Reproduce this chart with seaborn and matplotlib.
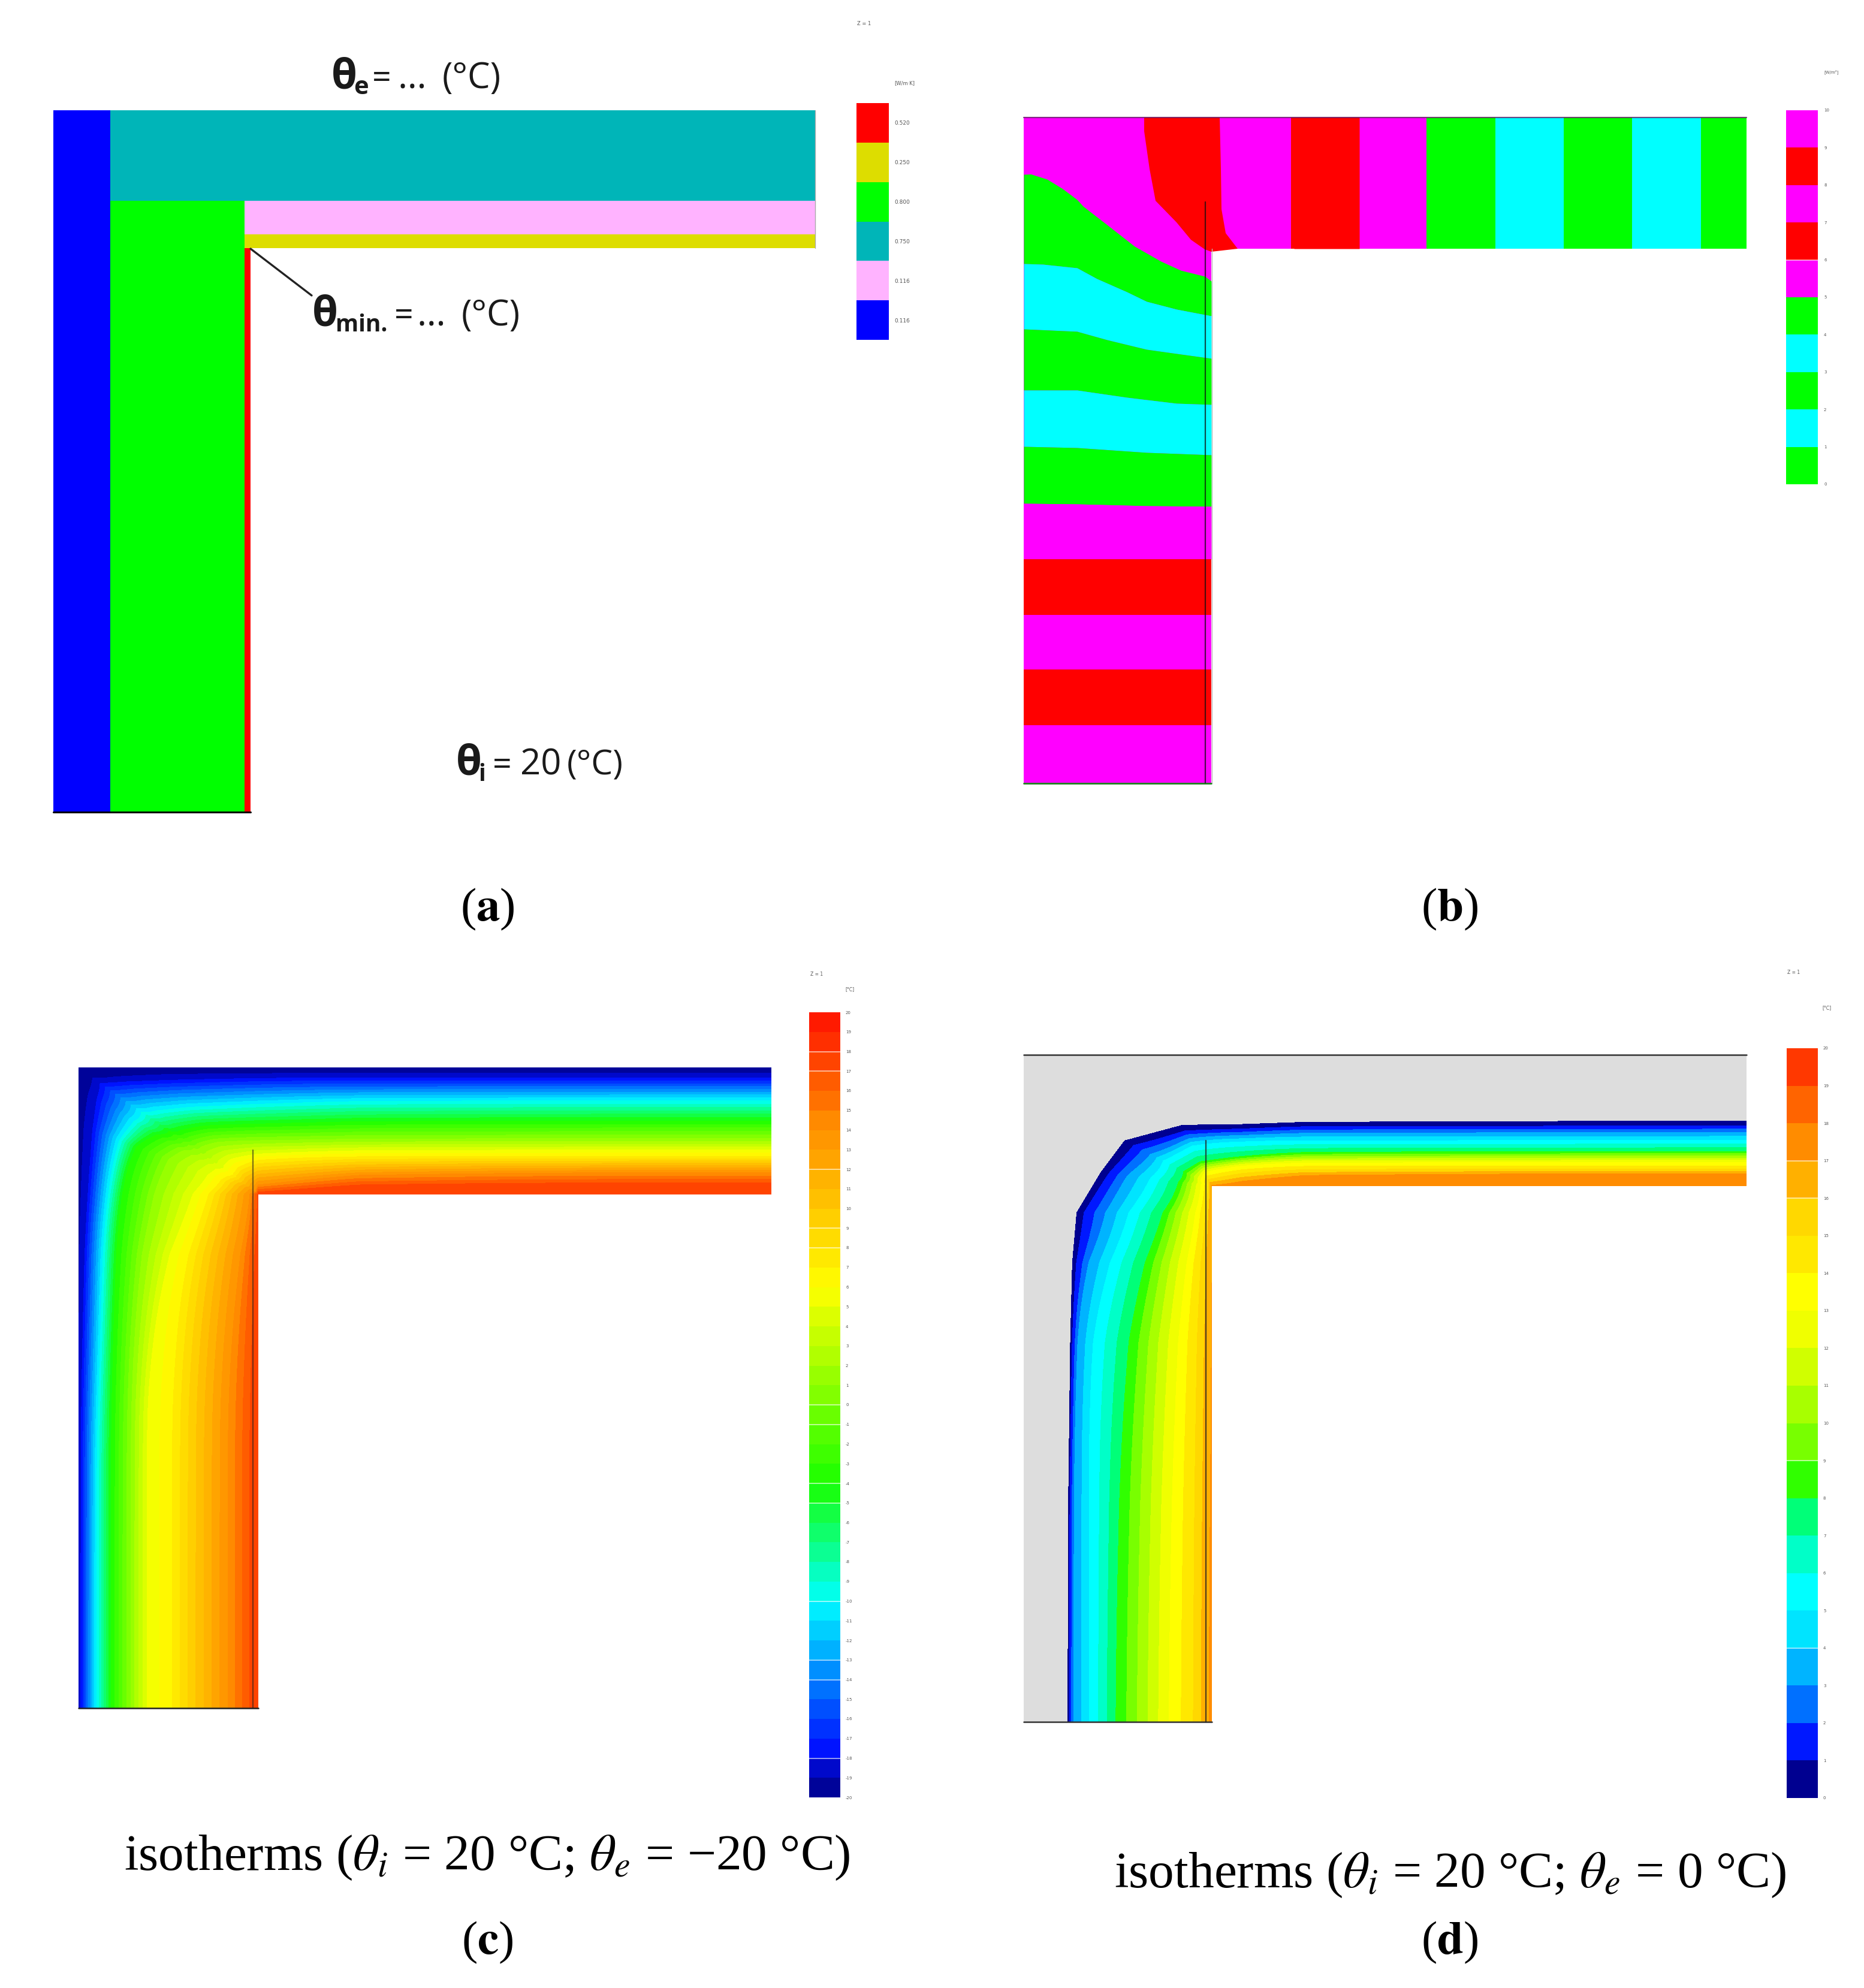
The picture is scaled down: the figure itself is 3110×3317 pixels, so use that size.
import numpy as np
import matplotlib
matplotlib.use("Agg")
import matplotlib.pyplot as plt
from matplotlib.colors import ListedColormap, LinearSegmentedColormap
import seaborn as sns

sns.set_theme(style="white")
plt.rcParams["font.family"] = ["Liberation Serif", "DejaVu Serif"]
plt.rcParams["mathtext.fontset"] = "stix"

W, H = 3110, 3317

# ---------- panel (a): material layers ----------
a_conductivity = ["0.520", "0.250", "0.800", "0.750", "0.116", "0.116"]
a_bar_colors = ["#ff0000", "#dddd00", "#00ff00", "#00b5b8", "#ffb3ff", "#0000ff"]
a_layers_x0 = [89, 184, 184, 408, 408, 408]
a_layers_x1 = [184, 1360, 408, 1360, 1360, 418]
a_layers_y0 = [184, 184, 335, 335, 391, 414]
a_layers_y1 = [1355, 335, 1355, 391, 414, 1355]
a_layers_col = [5, 3, 2, 4, 1, 0]

# ---------- panel (b): heat-flux bands ----------
b_bar_colors = ["#ff00ff", "#ff0000", "#ff00ff", "#ff0000", "#ff00ff",
                "#00ff00", "#00ffff", "#00ff00", "#00ffff", "#00ff00"]
b_bar_labels = ["10", "9", "8", "7", "6", "5", "4", "3", "2", "1", "0"]
b_strip_edges = [2154, 2268, 2380, 2495, 2609, 2723, 2838, 2914]
b_strip_cols = ["#ff0000", "#ff00ff", "#00ff00", "#00ffff", "#00ff00", "#00ffff", "#00ff00"]
b_red_x = [1909, 1909, 1918, 1928, 1963, 1987, 2010, 2021, 2065, 2045, 2038, 2037, 2035]
b_red_y = [196, 219, 282, 335, 371, 400, 416, 420, 415, 389, 349, 282, 196]
b_red2_x = [2154, 2154, 2157, 2159]
b_red2_y = [196, 328, 357, 415]
b_iso_x = [
    [1708, 1720, 1747, 1773, 1797, 1807, 1847, 1893, 1937, 1970, 2010, 2021],
    [1708, 1740, 1797, 1830, 1880, 1913, 1963, 2010, 2021],
    [1708, 1797, 1847, 1913, 1963, 2021],
    [1708, 1797, 1880, 1963, 2021],
    [1708, 1797, 1913, 2021],
    [1708, 1797, 1913, 2021],
    [1708, 2021], [1708, 2021], [1708, 2021], [1708, 2021], [1708, 2021],
]
b_iso_y = [
    [291, 290.5, 299, 315, 333, 344, 375, 411, 436, 451, 461, 469],
    [440, 441, 447, 465, 487, 503, 516, 525, 527],
    [549, 553, 567, 583, 590, 598],
    [651, 651, 663, 673, 675],
    [745, 747, 755, 759],
    [840, 841, 844, 845],
    [933, 933], [1026, 1026], [1117, 1117], [1210, 1210], [1306, 1306],
]
b_leg_cols = ["#00ff00", "#00ffff", "#00ff00", "#00ffff", "#00ff00",
              "#ff00ff", "#ff0000", "#ff00ff", "#ff0000", "#ff00ff"]

# ---------- panel (c): isotherms read along cross-sections ----------
c_out_x = [93, 93, 93, 93, 93, 93, 93, 93, 230, 500, 993, 1500, 3561]
c_out_y = [3270, 2000, 1500, 1000, 697, 350, 170, 65, 65, 65, 65, 65, 65]
c_in_x = [993, 993, 993, 993, 993, 993, 993, 993, 993, 993, 993, 1500, 3561]
c_in_y = [3270, 2000, 1500, 1000, 697, 697, 697, 697, 697, 697, 697, 697, 697]
c_temps = [-20, -19, -18, -10, -4, 1, 5, 7, 14, 17, 18]
c_frac = [
    [0, 0, 0, 0, 0, 0, 0, 0, 0, 0, 0, 0, 0],
    [0, 0, .002, .005, .012, .03, .05, .09, .07, .05, .045, .04, .04],
    [.013, .013, .02, .035, .05, .08, .10, .13, .11, .10, .08, .08, .08],
    [.10, .10, .12, .135, .16, .22, .32, .363, .34, .31, .29, .26, .26],
    [.18, .18, .19, .21, .235, .31, .45, .52, .50, .45, .45, .42, .42],
    [.29, .29, .30, .35, .42, .50, .59, .66, .63, .58, .58, .56, .56],
    [.38, .38, .39, .50, .65, .73, .76, .81, .78, .72, .68, .65, .65],
    [.52, .52, .53, .60, .74, .80, .83, .86, .84, .80, .72, .70, .70],
    [.83, .83, .84, .90, .965, .97, .975, .98, .98, .98, .94, .83, .83],
    [.95, .95, .96, .98, 1, 1, 1, 1, 1, 1, 1, .91, .91],
    [1, 1, 1, 1, 1, 1, 1, 1, 1, 1, 1, 1, 1],
]
c_ticks = list(range(20, -21, -1))

# ---------- panel (d) ----------
d_out_x = [305, 308, 318, 328, 350, 470, 590, 880, 1180, 1500, 3702]
d_out_y = [3400, 2300, 1500, 1100, 850, 650, 490, 412, 408, 397, 390]
d_in_x = [1025, 1025, 1025, 1025, 1025, 1025, 1025, 1025, 1180, 1500, 3702]
d_in_y = [3400, 2300, 1500, 1100, 850, 717, 717, 717, 717, 717, 717]
d_temps = [0, 1, 3, 5, 8, 13, 15, 17, 18]
d_frac = np.array([
    [0, .01, .04, .15, .33, .70, .87, .98, 1],
    [0, .01, .04, .15, .35, .72, .88, .99, 1],
    [0, .01, .04, .13, .40, .76, .895, 1, 1],
    [0, .025, .10, .275, .52, .82, .92, 1, 1],
    [0, .06, .25, .40, .65, .89, .96, 1, 1],
    [0, .06, .20, .45, .72, .91, .97, 1, 1],
    [0, .12, .36, .48, .69, .90, .97, 1, 1],
    [0, .09, .19, .32, .60, .77, .90, 1, 1],
    [0, .07, .18, .27, .51, .66, .78, .93, 1],
    [0, .066, .166, .29, .46, .63, .73, .81, 1],
    [0, .08, .18, .30, .47, .64, .74, .81, 1],
]).T
d_bar_colors = ["#ff3800", "#ff6400", "#ff8c00", "#ffb000", "#ffd800", "#ffe800", "#ffff00",
                "#f0ff00", "#d0ff00", "#a8ff00", "#78ff00", "#30ff00", "#00ff78", "#00ffc8",
                "#00ffff", "#00e4ff", "#00b4ff", "#0070ff", "#0018ff", "#000090"]
d_ticks = list(range(20, -1, -1))

c_anchor = [(0, "#000080"), (.06, "#0010ff"), (.25, "#00ffff"), (.40, "#1aff00"),
            (.65, "#ffff00"), (.86, "#ff8c00"), (1, "#ff1000")]
c_ramp = LinearSegmentedColormap.from_list("c", c_anchor)
c_bar_colors = [c_ramp(1 - (i + .5) / 40) for i in range(40)]

# ---------- helpers ----------
fig = plt.figure(figsize=(W / 100, H / 100), dpi=100, facecolor="white")
TICK = "#555555"


def panel(l, t, r, b, xlim, ylim):
    ax = fig.add_axes([l / W, 1 - b / H, (r - l) / W, (b - t) / H])
    ax.set_xlim(*xlim)
    ax.set_ylim(*ylim)
    ax.axis("off")
    ax.patch.set_alpha(0)
    return ax


def colour_bar(l, t, r, b, cols, labels, at_edges=True, lx=8, white_at=(), fs=5):
    ax = fig.add_axes([l / W, 1 - b / H, (r - l) / W, (b - t) / H])
    vals = np.arange(len(cols))[:, None]
    sns.heatmap(vals, ax=ax, cmap=ListedColormap(cols), cbar=False,
                xticklabels=False, yticklabels=False, linewidths=0, rasterized=True)
    for sp in ax.spines.values():
        sp.set_visible(False)
    ax.yaxis.tick_right()
    pos = np.arange(len(labels)) + (0 if at_edges else .5)
    ax.set_yticks(pos)
    ax.set_yticklabels(labels, fontsize=fs, color=TICK, family=["DejaVu Sans"])
    ax.tick_params(axis="y", length=0, pad=lx * .72, right=True, left=False,
                   labelright=True, labelleft=False)
    ax.tick_params(axis="x", length=0)
    if len(white_at):
        ax.hlines(list(white_at), 0, 1, color="white", lw=1.1, alpha=.75)
    return ax


def rays_field(ax, ox, oy, ix, iy, frac, temps, levels, cols):
    n = len(ox)
    frac = np.asarray(frac, float)
    sub = 24
    s0 = np.arange(n)
    s = np.linspace(0, n - 1, (n - 1) * sub + 1)
    OX, OY = np.interp(s, s0, ox), np.interp(s, s0, oy)
    IX, IY = np.interp(s, s0, ix), np.interp(s, s0, iy)
    win = 37
    k = np.ones(win) / win
    F = []
    for row in frac:
        f = np.interp(s, s0, row)
        p = np.pad(f, win // 2, mode="edge")
        F.append(np.convolve(p, k, mode="valid"))
    F = np.array(F)
    F = np.maximum.accumulate(F, axis=0)
    X = OX + F * (IX - OX)
    Y = OY + F * (IY - OY)
    T = np.repeat(np.asarray(temps, float)[:, None], len(s), axis=1)
    ax.contourf(X, Y, T, levels=levels, colors=cols, antialiased=False)


def txt(x, y, s, **kw):
    return fig.text(x / W, 1 - y / H, s, **kw)


# ---------- panel (a) ----------
ax = panel(70, 170, 1380, 1370, (70, 1380), (1370, 170))
for x0, x1, y0, y1, ci in zip(a_layers_x0, a_layers_x1, a_layers_y0, a_layers_y1, a_layers_col):
    ax.fill_between([x0, x1], y0, y1, color=a_bar_colors[ci], lw=0)
ax.plot([89, 418], [1355, 1355], color="black", lw=2.2)
ax.plot([1360, 1360], [184, 414], color="#aaaaaa", lw=1)
ax.plot([418, 520], [415, 493], color="#222222", lw=2.4)

colour_bar(1429, 172, 1483, 567, a_bar_colors, a_conductivity, at_edges=False, lx=9, fs=6.5)
txt(1492, 139, "[W/m·K]", fontsize=6, color=TICK, family="DejaVu Sans", va="center")
txt(1430, 40, "Z = 1", fontsize=6, color=TICK, family="DejaVu Sans", va="center")

SANS = ["Open Sans", "DejaVu Sans"]
blk = "#1a1a1a"
TH, SB, EQ, EL, PA = 50, 30, 40, 44, 43
# theta_e
txt(553, 147, "θ", fontsize=TH, fontweight="bold", family=SANS, color=blk, va="baseline")
txt(590, 157, "e", fontsize=SB, fontweight="bold", family=SANS, color=blk, va="baseline")
txt(621, 147, "=", fontsize=EQ, family=SANS, color=blk, va="baseline")
txt(664, 147, "…", fontsize=EL, family=SANS, color=blk, va="baseline")
txt(738, 147, "(°C)", fontsize=PA, family=SANS, color=blk, va="baseline")
# theta_min
txt(521, 543, "θ", fontsize=TH, fontweight="bold", family=SANS, color=blk, va="baseline")
txt(560, 553, "min.", fontsize=28, fontweight="bold", family=SANS, color=blk, va="baseline")
txt(658, 543, "=", fontsize=EQ, family=SANS, color=blk, va="baseline")
txt(696, 543, "…", fontsize=EL, family=SANS, color=blk, va="baseline")
txt(770, 543, "(°C)", fontsize=PA, family=SANS, color=blk, va="baseline")
# theta_i
txt(761, 1293, "θ", fontsize=TH, fontweight="bold", family=SANS, color=blk, va="baseline")
txt(798, 1303, "i", fontsize=28, fontweight="bold", family=SANS, color=blk, va="baseline")
txt(822, 1293, "=", fontsize=EQ, family=SANS, color=blk, va="baseline")
txt(868, 1293, "20", fontsize=PA, family=SANS, color=blk, va="baseline")
txt(946, 1293, "(°C)", fontsize=41, family=SANS, color=blk, va="baseline")

# ---------- panel (b) ----------
ax = panel(1690, 180, 2930, 1320, (1690, 2930), (1320, 180))
ax.fill([1708, 2914, 2914, 2021, 2021, 1708], [196, 196, 415, 415, 1306, 1306], color="#ff00ff", lw=0)
for i, c in enumerate(b_strip_cols):
    ax.fill_between([b_strip_edges[i], b_strip_edges[i + 1]], 196, 415, color=c, lw=0)
ax.fill(b_red_x, b_red_y, color="#ff0000", lw=0)
ax.fill_betweenx(b_red2_y, b_red2_x, 2268, color="#ff0000", lw=0)
xg = np.linspace(1708, 2021, 314)
curves = [np.interp(xg, bx, by) for bx, by in zip(b_iso_x, b_iso_y)]
for i, c in enumerate(b_leg_cols):
    ax.fill_between(xg, curves[i], curves[i + 1], color=c, lw=0)
ax.plot([1708, 2914], [196, 196], color="#550055", lw=1.6, alpha=.7)
ax.plot([1708, 2021], [1307, 1307], color="#1c7a1c", lw=2)
ax.plot([2011, 2011], [337, 1306], color="#111111", lw=1.6, alpha=.75)
ax.plot([2021.5, 2021.5], [415, 1306], color="#bbbbbb", lw=1)

colour_bar(2980, 184, 3033, 808, b_bar_colors, b_bar_labels, lx=10, white_at=[4])
txt(3043, 120, "[W/m²]", fontsize=5, color=TICK, family="DejaVu Sans", va="center")

# ---------- panel (c) ----------
ax = panel(120, 1770, 1300, 2860, (60, 3600), (3300, 30))
rays_field(ax, c_out_x, c_out_y, c_in_x, c_in_y, c_frac, c_temps,
           np.arange(-20, 21, 1), c_bar_colors[::-1])
ax.plot([93, 993], [3270, 3270], color="#222222", lw=1.8)
ax.plot([966, 966], [478, 3270], color="#222222", lw=1.6, alpha=.6)

colour_bar(1350, 1689, 1402, 2999, c_bar_colors, [str(v) for v in c_ticks], lx=9,
           white_at=[2, 3, 8, 11, 12, 20, 21, 24, 25, 30, 33, 34, 38], fs=5)
txt(1410, 1651, "[°C]", fontsize=5.5, color=TICK, family="DejaVu Sans", va="center")
txt(1352, 1625, "Z = 1", fontsize=5.5, color=TICK, family="DejaVu Sans", va="center")

# ---------- panel (d) ----------
ax = panel(1690, 1750, 2930, 2890, (30, 3750), (3450, 30))
ax.fill([84, 3702, 3702, 1025, 1025, 84], [60, 60, 717, 717, 3400, 3400], color="#dddddd", lw=0)
rays_field(ax, d_out_x, d_out_y, d_in_x, d_in_y, d_frac, d_temps,
           np.arange(0, 21, 1), d_bar_colors[::-1])
ax.plot([84, 3702], [60, 60], color="#333333", lw=1.8)
ax.plot([84, 1025], [3400, 3400], color="#333333", lw=1.8)
ax.plot([995, 995], [490, 3400], color="#222222", lw=1.6, alpha=.8)

colour_bar(2981, 1749, 3033, 3000, d_bar_colors, [str(v) for v in d_ticks], lx=9,
           white_at=[3, 4, 11, 16], fs=5)
txt(3040, 1682, "[°C]", fontsize=5.5, color=TICK, family="DejaVu Sans", va="center")
txt(2982, 1622, "Z = 1", fontsize=5.5, color=TICK, family="DejaVu Sans", va="center")

# ---------- captions ----------
CAP = 61.5
txt(813, 3100, r"isotherms ($\theta_i$ = 20 °C; $\theta_e$ = −20 °C)", fontsize=CAP,
    ha="center", va="center", color="black")
txt(2419, 3129, r"isotherms ($\theta_i$ = 20 °C; $\theta_e$ = 0 °C)", fontsize=CAP,
    ha="center", va="center", color="black")
for x, y, s in [(813, 1517, "a"), (2419, 1517, "b"), (813, 3241, "c"), (2419, 3241, "d")]:
    txt(x, y, rf"($\mathbf{{{s}}}$)", fontsize=57, ha="center", va="center", color="black")

fig.savefig("out.png", dpi=100)
